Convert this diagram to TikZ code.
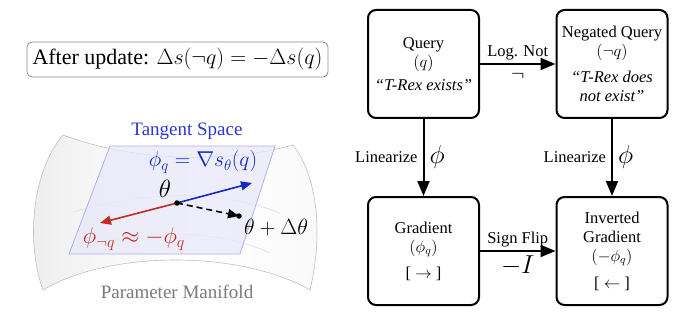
\RequirePackage{fix-cm}
\documentclass[tikz,border=0pt]{standalone}
\usepackage[no-math]{fontspec}
\setmainfont{Liberation Serif}
\usetikzlibrary{arrows.meta}
\definecolor{tblue}{RGB}{45,55,205}
\definecolor{ablue}{RGB}{20,40,190}
\definecolor{ared}{RGB}{190,45,35}
\definecolor{planefill}{RGB}{232,232,250}
\definecolor{planeedge}{RGB}{175,175,238}
\newcommand\bxfont{\fontsize{16.5}{19}\selectfont}
\newcommand\fsz[1]{\fontsize{#1}{#1}\selectfont}
\begin{document}
\begin{tikzpicture}[x=1pt,y=-1pt,
  box/.style={draw,line width=2pt,rounded corners=8pt,minimum width=111pt,minimum height=108pt,align=center,font=\bxfont,inner sep=0pt},
  arr/.style={line width=2pt,-{Triangle[length=15pt,width=12pt]}},
  lbl/.style={font=\bxfont,inner sep=2pt},
  mlbl/.style={font=\fsz{26},inner sep=1pt},
  varr/.style={line width=1.6pt,-{Triangle[length=11pt,width=9pt]}},
  dot/.style={circle,fill=black,inner sep=0pt,minimum size=5.5pt}]
\useasboundingbox (0,0) rectangle (680,318);

% formula box
\node[draw=black!45,line width=0.8pt,rounded corners=5pt,fill=white,minimum width=301pt,minimum height=35pt,font=\fsz{22}] (upd) at (177.5,59.5) {After update: $\Delta s(\neg q) = -\Delta s(q)$};

% manifold
\pgfdeclarehorizontalshading{mfold}{100bp}{color(0bp)=(black!15); color(35bp)=(black!4); color(55bp)=(white); color(80bp)=(black!3); color(100bp)=(black!9)}
\shadedraw[shading=mfold,draw=black!25,line width=0.6pt]
  (63,135) .. controls (33,170) and (25,240) .. (43,290)
  .. controls (110,250) and (240,250) .. (310,290)
  .. controls (322,240) and (320,180) .. (293,145)
  .. controls (220,165) and (130,160) .. (63,135) -- cycle;
\draw[black!13,line width=0.6pt] (73,212) .. controls (150,190) and (220,190) .. (280,213);
\draw[black!13,line width=0.6pt] (90,247) .. controls (150,228) and (220,230) .. (270,253);
\node[text=black!52,font=\fsz{19}] (pm) at (177,292) {Parameter Manifold};

% tangent plane
\filldraw[fill=planefill,fill opacity=0.75,draw=planeedge,line width=0.8pt]
  (110,146) -- (275,146) -- (240,254) -- (69,254) -- cycle;
\node[text=tblue,font=\fsz{19}] (ts) at (187,131) {Tangent Space};

\coordinate (th) at (177,203);
\coordinate (bt) at (252,183);
\coordinate (rt) at (100,223);
\coordinate (dt) at (239,216);
\draw[varr,ablue] (th) -- (bt);
\draw[varr,ared] (th) -- (rt);
\draw[line width=1.6pt,dash pattern=on 6pt off 4pt,-{Triangle[length=11pt,width=9pt]}] (th) -- (dt);
\node[dot] (thd) at (th) {};
\node[dot] (dtd) at (dt) {};
\node[font=\fsz{25},inner sep=1pt] (thl) at (165,189) {$\theta$};
\node[font=\fsz{22},inner sep=1pt] (tdl) at (276,228) {$\theta+\Delta\theta$};
\node[text=ablue,font=\fsz{21.5},inner sep=1pt] (pql) at (203,162) {$\phi_q = \nabla s_\theta(q)$};
\node[text=ared,font=\fsz{23},inner sep=1pt] (pnl) at (134,239) {$\phi_{\neg q} \approx -\phi_q$};

% flow boxes
\node[box] (q) at (423.5,64) {Query\\$(q)$\\[4pt]\textit{“T-Rex exists”}};
\node[box] (nq) at (612,64) {Negated Query\\$(\neg q)$\\[7pt]\textit{“T-Rex does}\\\textit{not exist”}};
\node[box] (g) at (423.5,251) {Gradient\\$(\phi_q)$\\[7pt][ $\rightarrow$ ]};
\node[box] (ig) at (612,251) {Inverted\\Gradient\\$(-\phi_q)$\\[8pt][ $\leftarrow$ ]};

\draw[arr] (q) -- node[lbl,above=1pt] {Log. Not} node[inner sep=1pt,font=\fsz{20},below=6pt] {$\neg$} (nq);
\draw[arr] (g) -- node[lbl,above=1pt] {Sign Flip} node[mlbl,below=3pt] {$-I$} (ig);
\draw[arr] (q) -- node[lbl,left=3pt] {Linearize} node[mlbl,right=4pt] {$\phi$} (g);
\draw[arr] (nq) -- node[lbl,left=3pt] {Linearize} node[mlbl,right=4pt] {$\phi$} (ig);
\end{tikzpicture}
\end{document}
